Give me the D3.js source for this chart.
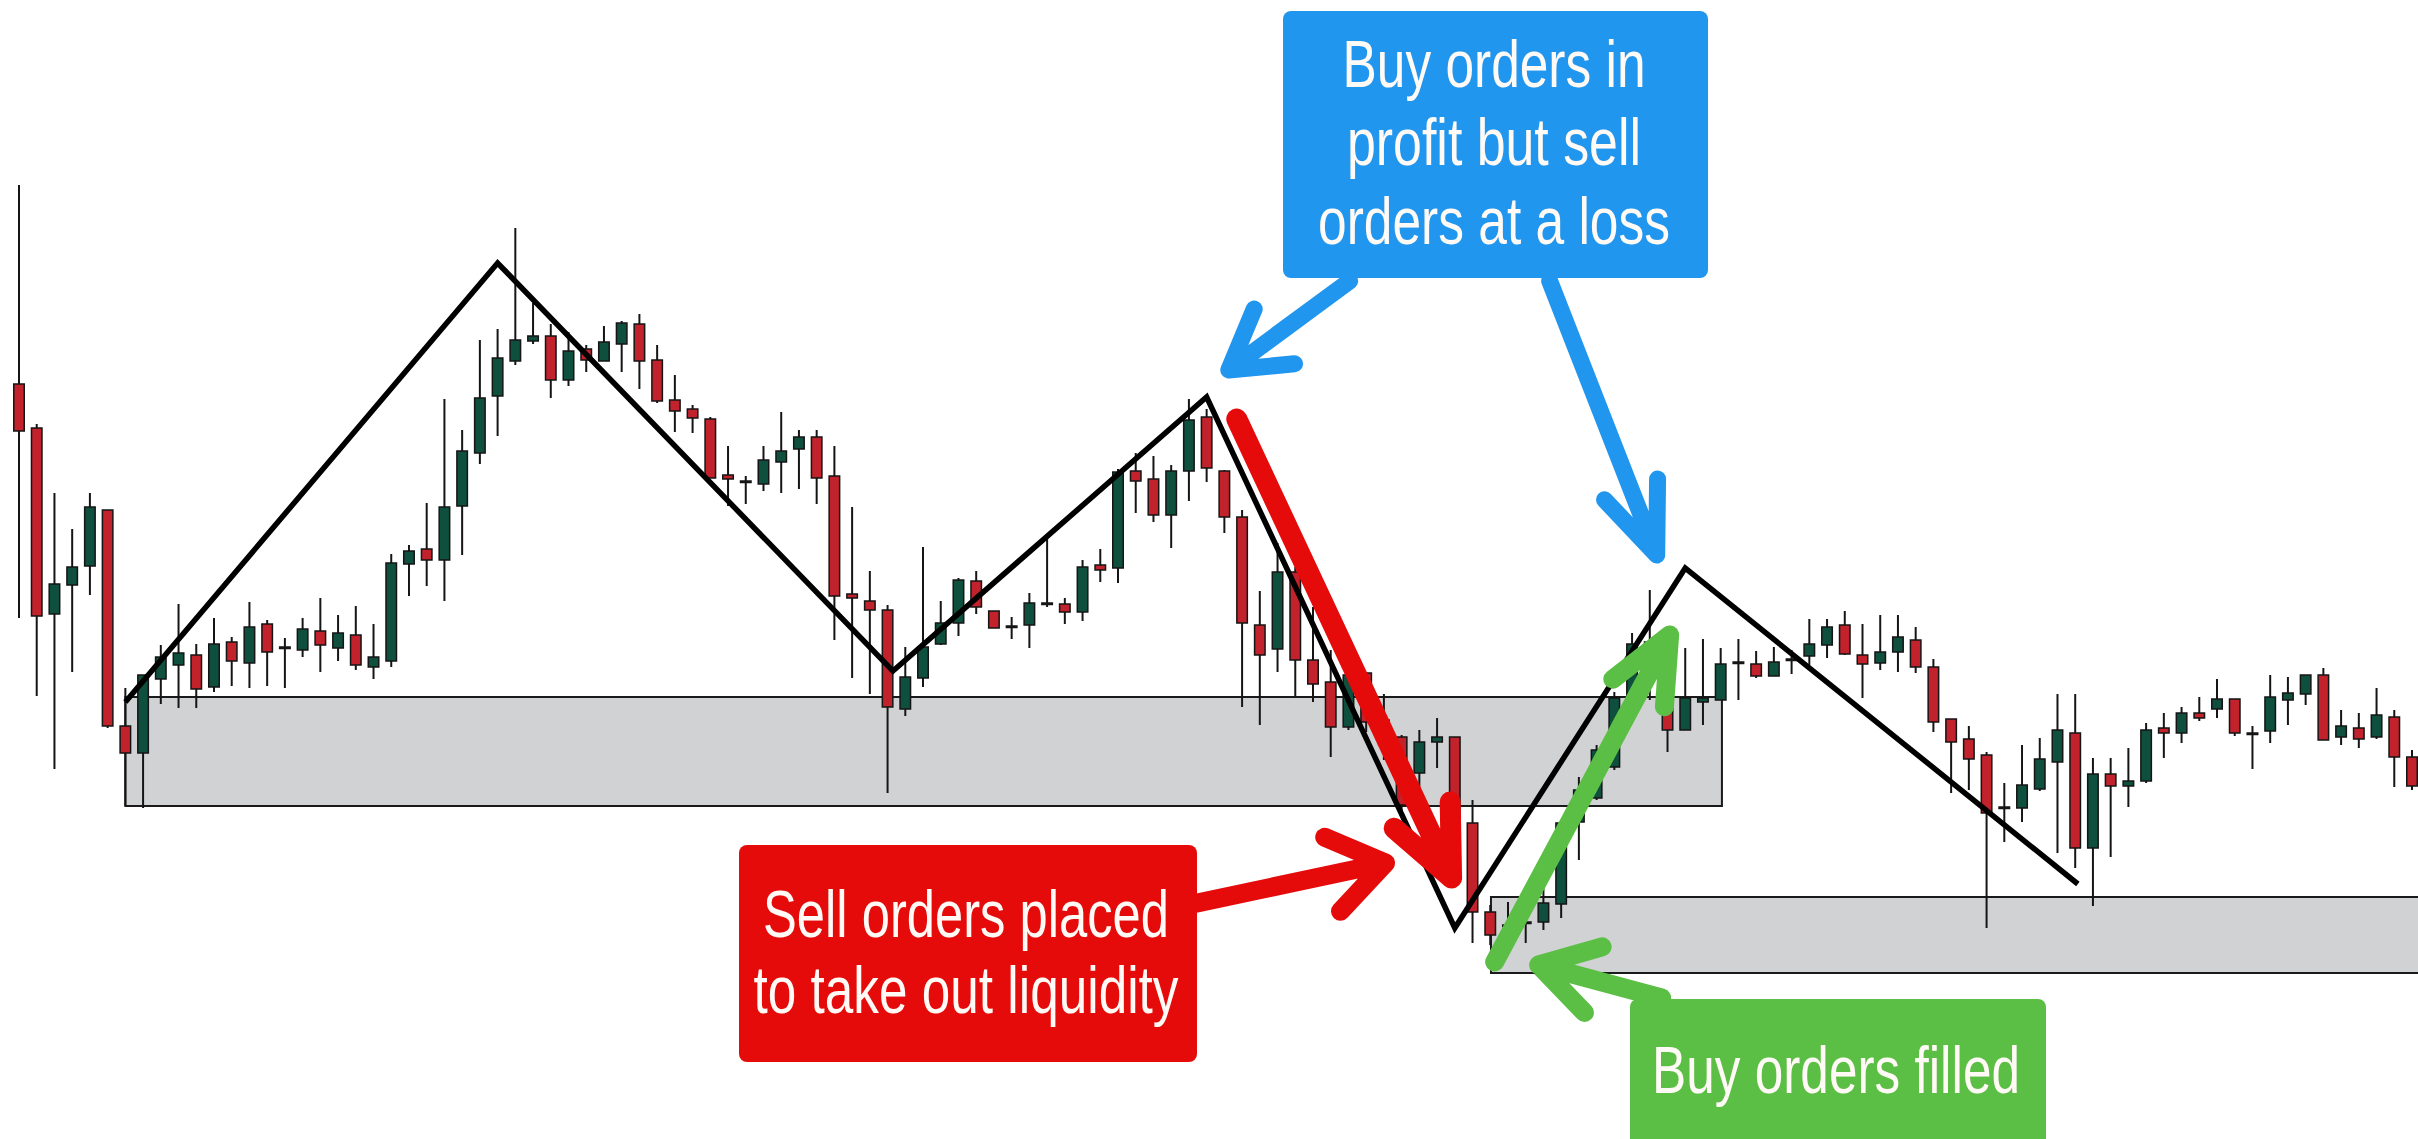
<!DOCTYPE html>
<html>
<head>
<meta charset="utf-8">
<script src="https://cdn.jsdelivr.net/npm/d3@7"></script>
<style>
  html, body { margin: 0; padding: 0; background: #fff; overflow: hidden; }
</style>
</head>
<body>
<svg id="chart"></svg>
<script>
// candle prices (points), one entry per bar
const opens = [
  816, 772, 586, 615, 634, 690, 474, 447, 521, 535,
  545, 513, 558, 537, 576, 553, 550, 569, 552, 565,
  533, 539, 636, 651, 640, 694, 747, 804, 839, 859,
  864, 820, 851, 839, 856, 876, 840, 800, 791, 781,
  725, 719, 716, 738, 751, 763, 724, 606, 599, 590,
  491, 522, 556, 577, 619, 589, 574, 575, 597, 596,
  588, 635, 632, 729, 721, 685, 729, 783, 729, 683,
  575, 551, 628, 540, 518, 473, 527, 480, 463, 427,
  458, 463, 377, 288, 275, 278, 278, 296, 378, 402,
  433, 503, 550, 513, 470, 498, 500, 538, 536, 524,
  541, 544, 555, 575, 545, 537, 548, 560, 533, 481,
  461, 445, 393, 392, 411, 438, 467, 352, 426, 414,
  419, 472, 467, 487, 491, 501, 467, 469, 500, 506,
  525, 463, 472, 463, 483, 443
];
const highs = [
  1015, 776, 707, 671, 707, 690, 512, 525, 555, 596,
  556, 582, 563, 598, 580, 562, 582, 602, 585, 594,
  576, 646, 655, 697, 801, 770, 860, 871, 972, 897,
  876, 868, 855, 874, 879, 886, 855, 825, 795, 783,
  754, 724, 754, 788, 770, 770, 754, 693, 629, 595,
  553, 653, 599, 622, 629, 589, 583, 607, 662, 602,
  640, 651, 731, 747, 744, 735, 801, 791, 730, 690,
  609, 657, 633, 593, 550, 530, 528, 506, 465, 470,
  482, 463, 400, 295, 298, 283, 312, 380, 423, 455,
  508, 567, 610, 515, 552, 561, 552, 561, 549, 553,
  550, 581, 581, 589, 576, 585, 585, 573, 541, 481,
  474, 448, 417, 455, 462, 506, 506, 442, 442, 452,
  477, 487, 493, 503, 521, 501, 474, 525, 523, 525,
  532, 490, 487, 512, 490, 450
];
const lows = [
  582, 504, 431, 528, 605, 472, 394, 392, 496, 492,
  492, 508, 514, 512, 514, 512, 543, 528, 539, 530,
  521, 533, 604, 614, 599, 645, 736, 764, 835, 856,
  802, 814, 828, 839, 828, 811, 797, 768, 767, 722,
  694, 696, 709, 707, 711, 696, 560, 522, 506, 407,
  484, 513, 555, 564, 586, 572, 561, 552, 593, 576,
  579, 618, 617, 687, 678, 652, 699, 718, 667, 493,
  475, 528, 503, 498, 443, 470, 468, 440, 388, 410,
  432, 370, 257, 255, 260, 257, 270, 282, 340, 400,
  430, 500, 500, 448, 470, 475, 500, 500, 522, 524,
  526, 535, 542, 545, 502, 530, 528, 527, 468, 407,
  410, 272, 358, 378, 409, 347, 332, 294, 343, 393,
  417, 442, 457, 479, 482, 464, 431, 457, 475, 495,
  460, 455, 452, 461, 413, 410
];
const closes = [
  769, 584, 616, 633, 693, 474, 447, 525, 543, 547,
  511, 556, 539, 573, 548, 552, 571, 555, 567, 535,
  543, 637, 649, 640, 693, 749, 802, 842, 860, 864,
  820, 849, 840, 858, 877, 839, 799, 789, 782, 722,
  721, 718, 740, 749, 763, 722, 604, 602, 590, 493,
  523, 553, 577, 620, 593, 572, 573, 597, 596, 588,
  633, 630, 728, 719, 685, 729, 780, 732, 683, 577,
  545, 628, 540, 516, 473, 525, 478, 455, 395, 458,
  463, 377, 288, 265, 274, 277, 297, 377, 410, 450,
  502, 556, 558, 470, 502, 502, 536, 537, 524, 538,
  540, 556, 573, 546, 536, 548, 563, 533, 478, 458,
  441, 387, 392, 415, 441, 470, 352, 426, 414, 419,
  470, 467, 487, 482, 501, 467, 466, 503, 507, 525,
  460, 474, 461, 485, 443, 414
];

// swing line pivots (bar index, price)
const swingIdx = [6, 27, 49.3, 67, 81, 94, 116.15];
const swingPx = [498, 937, 529, 803, 272, 632, 316];

// liquidity zones
const zoneStart = [6, 83.04];
const zoneEnd = [96.07, 140];
const zoneTop = [503, 303];
const zoneBottom = [394, 227];

const W = 2418, H = 1139;
const RED = '#c1222b', GREEN = '#0e4f3d';

const svg = d3.select('#chart').attr('width', W).attr('height', H);
svg.append('rect').attr('width', W).attr('height', H).attr('fill', '#fff');

const x = d3.scaleLinear().domain([0, opens.length - 1]).range([19, 2412]);
const y = d3.scaleLinear().domain([200, 1050]).range([1000, 150]);

const candles = opens.map((o, i) => ({ i, o, h: highs[i], l: lows[i], c: closes[i] }));

// zones
svg.append('g').selectAll('rect')
  .data(zoneStart.map((s, k) => ({ s, e: zoneEnd[k], t: zoneTop[k], b: zoneBottom[k] })))
  .join('rect')
  .attr('x', d => x(d.s))
  .attr('y', d => y(d.t))
  .attr('width', d => x(d.e) - x(d.s))
  .attr('height', d => y(d.b) - y(d.t))
  .attr('fill', '#d1d2d4')
  .attr('stroke', '#1a1a1a')
  .attr('stroke-width', 2);

// candles
const bodyW = 10.5;
const g = svg.append('g').selectAll('g').data(candles).join('g');
g.append('line')
  .attr('x1', d => x(d.i)).attr('x2', d => x(d.i))
  .attr('y1', d => y(d.h)).attr('y2', d => y(d.l))
  .attr('stroke', '#151515').attr('stroke-width', 2);
g.append('rect')
  .attr('x', d => x(d.i) - bodyW / 2)
  .attr('width', bodyW)
  .attr('y', d => y(Math.max(d.o, d.c)))
  .attr('height', d => Math.max(1.5, Math.abs(y(d.o) - y(d.c))))
  .attr('fill', d => d.c >= d.o ? GREEN : RED)
  .attr('stroke', '#151515')
  .attr('stroke-width', 1.5);

// swing line
const swing = d3.line().x(d => x(d[0])).y(d => y(d[1]));
svg.append('path')
  .datum(swingIdx.map((v, k) => [v, swingPx[k]]))
  .attr('d', swing)
  .attr('fill', 'none')
  .attr('stroke', '#000')
  .attr('stroke-width', 5.5)
  .attr('stroke-linejoin', 'miter');

// arrows, in chart units
const BLUE_A = '#2196ee', RED_A = '#e60b0b', GREEN_A = '#5cbf45';
const arrows = [
  { col: BLUE_A, from: [75.07, 919], to: [68.25, 830], len: 66, ang: 31, w: 17 },
  { col: BLUE_A, from: [86.35, 919], to: [92.39, 645], len: 76, ang: 22, w: 17 },
  { col: RED_A, from: [68.7, 781], to: [80.82, 322], len: 76, ang: 24, w: 21 },
  { col: RED_A, from: [66.47, 297], to: [77.09, 337], len: 66, ang: 35, w: 19 },
  { col: GREEN_A, from: [83.25, 238], to: [93.12, 565], len: 72, ang: 24, w: 19 },
  { col: GREEN_A, from: [92.67, 202], to: [85.73, 235], len: 66, ang: 31, w: 19 }
];
svg.append('g').selectAll('path').data(arrows).join('path')
  .attr('d', a => {
    const x0 = x(a.from[0]), y0 = y(a.from[1]);
    const x1 = x(a.to[0]), y1 = y(a.to[1]);
    const th = Math.atan2(y0 - y1, x0 - x1);
    const r = a.ang * Math.PI / 180;
    const b1 = [x1 + a.len * Math.cos(th + r), y1 + a.len * Math.sin(th + r)];
    const b2 = [x1 + a.len * Math.cos(th - r), y1 + a.len * Math.sin(th - r)];
    return `M${x0},${y0}L${x1},${y1}M${b1[0]},${b1[1]}L${x1},${y1}L${b2[0]},${b2[1]}`;
  })
  .attr('fill', 'none')
  .attr('stroke', a => a.col)
  .attr('stroke-width', a => a.w)
  .attr('stroke-linecap', 'round')
  .attr('stroke-linejoin', 'round');

// callout boxes
const callouts = [
  { col: BLUE_A, box: [1283, 11, 425, 267], cx: 1494,
    lines: ['Buy orders in', 'profit but sell', 'orders at a loss'], base: [87, 165, 244], len: [303, 294, 352] },
  { col: RED_A, box: [739, 845, 458, 217], cx: 966,
    lines: ['Sell orders placed', 'to take out liquidity'], base: [937, 1013], len: [406, 425] },
  { col: GREEN_A, box: [1630, 999, 416, 160], cx: 1836,
    lines: ['Buy orders filled'], base: [1093], len: [368] }
];
const cg = svg.append('g').selectAll('g').data(callouts).join('g');
cg.append('rect')
  .attr('x', d => d.box[0]).attr('y', d => d.box[1])
  .attr('width', d => d.box[2]).attr('height', d => d.box[3])
  .attr('rx', 8)
  .attr('fill', d => d.col);
cg.each(function (d) {
  d3.select(this).selectAll('text')
    .data(d.lines.map((t, k) => ({ t, b: d.base[k], l: d.len[k], cx: d.cx })))
    .join('text')
    .attr('x', t => t.cx)
    .attr('y', t => t.b)
    .attr('text-anchor', 'middle')
    .attr('textLength', t => t.l)
    .attr('lengthAdjust', 'spacingAndGlyphs')
    .attr('font-family', '"Liberation Sans", Arial, sans-serif')
    .attr('font-size', 67)
    .attr('fill', '#fffaf6')
    .text(t => t.t);
});
</script>
</body>
</html>
